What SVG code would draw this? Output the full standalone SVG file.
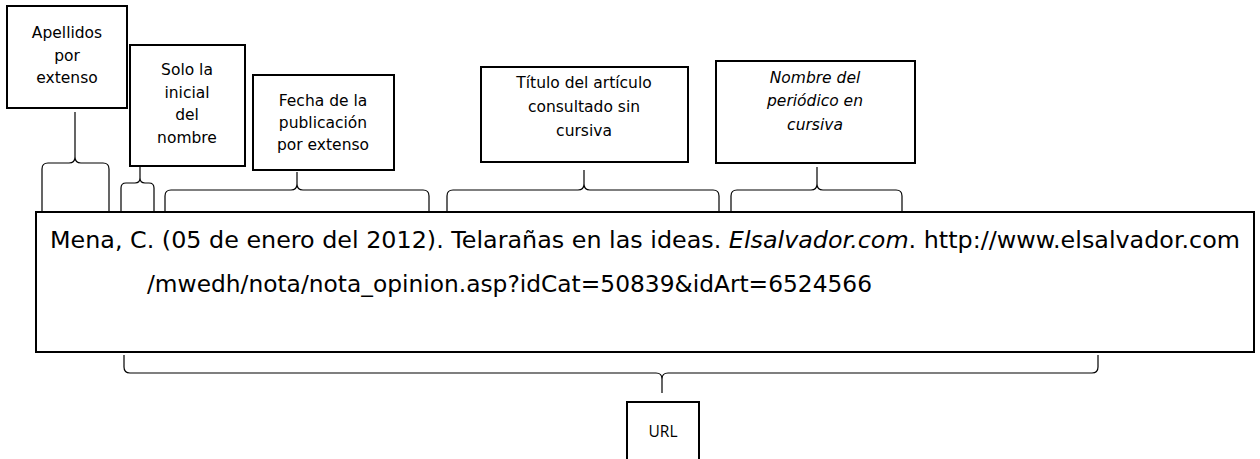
<svg xmlns="http://www.w3.org/2000/svg" width="1260" height="459" viewBox="0 0 1260 459">
<style>
.box{fill:#fff;stroke:#000;stroke-width:2}
.br{fill:none;stroke:#000;stroke-width:1.2}
.lbl{font-family:"DejaVu Sans",Tahoma,sans-serif;font-size:15.5px;fill:#000;text-anchor:middle}
.it{font-style:italic}
.main{font-family:"DejaVu Sans",Tahoma,sans-serif;font-size:22.5px;fill:#000}
.url{font-family:"Open Sans","Noto Sans",sans-serif;font-size:16px;fill:#000;text-anchor:middle}
</style>
<rect width="1260" height="459" fill="#fff"/>
<g id="connectors">
<path class="br" d="M42,212 L42,169 Q42,163 48,163 L69,163 Q75,163 75,157 L75,112 M75,157 Q75,163 81,163 L103,163 Q109,163 109,169 L109,212"/>
<path class="br" d="M121,212 L121,188 Q121,183 126,183 L135,183 Q140,183 140,178 L140,167 M140,178 Q140,183 145,183 L149,183 Q154,183 154,188 L154,212"/>
<path class="br" d="M165,212 L165,196 Q165,190 171,190 L291,190 Q297,190 297,184 L297,172 M297,184 Q297,190 303,190 L423,190 Q429,190 429,196 L429,212"/>
<path class="br" d="M447,212 L447,196 Q447,190 453,190 L578,190 Q584,190 584,184 L584,170 M584,184 Q584,190 590,190 L713,190 Q719,190 719,196 L719,212"/>
<path class="br" d="M731,212 L731,196 Q731,190 737,190 L811,190 Q817,190 817,184 L817,167 M817,184 Q817,190 823,190 L896,190 Q902,190 902,196 L902,212"/>
<path class="br" d="M124,355 L124,367 Q124,373 130,373 L656,373 Q662,373 662,379 L662,393 M662,379 Q662,373 668,373 L1092,373 Q1098,373 1098,367 L1098,355"/>
</g>
<g id="apellidos">
<rect class="box" x="7" y="6" width="120" height="102"/>
<text class="lbl" x="67" y="38">Apellidos</text>
<text class="lbl" x="67" y="61">por</text>
<text class="lbl" x="67" y="83">extenso</text>
</g>
<g id="inicial">
<rect class="box" x="130" y="45" width="115" height="121"/>
<text class="lbl" x="187" y="75">Solo la</text>
<text class="lbl" x="187" y="98">inicial</text>
<text class="lbl" x="187" y="120">del</text>
<text class="lbl" x="187" y="143">nombre</text>
</g>
<g id="fecha">
<rect class="box" x="253" y="75" width="141" height="95"/>
<text class="lbl" x="323" y="106">Fecha de la</text>
<text class="lbl" x="323" y="128">publicación</text>
<text class="lbl" x="323" y="150">por extenso</text>
</g>
<g id="titulo">
<rect class="box" x="481" y="67" width="207" height="95"/>
<text class="lbl" x="584" y="88">Título del artículo</text>
<text class="lbl" x="584" y="112">consultado sin</text>
<text class="lbl" x="584" y="136">cursiva</text>
</g>
<g id="periodico">
<rect class="box" x="716" y="61" width="199" height="102"/>
<text class="lbl it" x="815" y="83">Nombre del</text>
<text class="lbl it" x="815" y="106">periódico en</text>
<text class="lbl it" x="815" y="130">cursiva</text>
</g>
<g id="referencia">
<rect class="box" x="36" y="212" width="1218" height="140"/>
<text class="main" x="50" y="248" textLength="1190" lengthAdjust="spacingAndGlyphs">Mena, C. (05 de enero del 2012). Telarañas en las ideas. <tspan font-style="italic">Elsalvador.com</tspan>. http://www.elsalvador.com</text>
<text class="main" x="147" y="292" textLength="725" lengthAdjust="spacingAndGlyphs">/mwedh/nota/nota_opinion.asp?idCat=50839&amp;idArt=6524566</text>
</g>
<g id="url">
<path class="box" d="M627,459 L627,402 L699,402 L699,459"/>
<text class="url" x="663" y="437" textLength="29" lengthAdjust="spacingAndGlyphs">URL</text>
</g>
</svg>
